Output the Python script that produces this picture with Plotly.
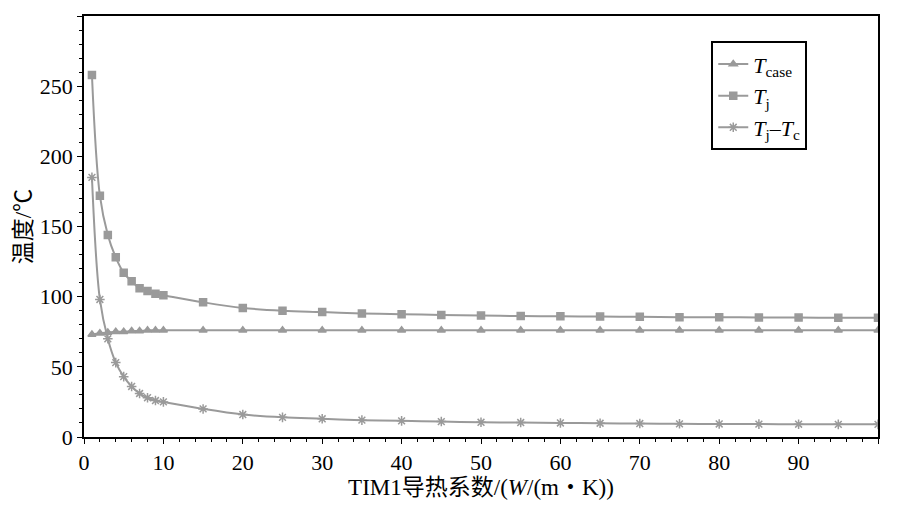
import plotly.graph_objects as go

# TIM1 conductivity (x) and temperatures
k_vals = [1, 2, 3, 4, 5, 6, 7, 8, 9, 10, 15, 20, 25, 30, 35, 40, 45, 50, 55, 60,
          65, 70, 75, 80, 85, 90, 95, 100]
t_case = [73, 74, 74.5, 75, 75, 75.5, 75.5, 76, 76, 76, 76, 76, 76, 76, 76, 76, 76, 76, 76, 76,
          76, 76, 76, 76, 76, 76, 76, 76]
t_j = [258, 172, 144, 128, 117, 111, 106, 104, 102, 101, 96, 92, 90, 89, 88, 87.5, 87, 86.5, 86.2, 86,
       85.8, 85.6, 85.4, 85.3, 85.2, 85.1, 85, 85]
t_diff = [185, 98, 70, 53, 43, 36, 31, 28, 26, 25, 20, 16, 14, 13, 12, 11.5, 11, 10.5, 10.3, 10,
          9.8, 9.6, 9.4, 9.3, 9.2, 9.1, 9, 9]

series = [
    ("<i>T</i><sub>case</sub>", t_case, "triangle-up", 7),
    ("<i>T</i><sub>j</sub>", t_j, "square", 7),
    ("<i>T</i><sub>j</sub>–<i>T</i><sub>c</sub>", t_diff, "asterisk-open", 8),
]

fig = go.Figure()
for name, ys, sym, sz in series:
    fig.add_trace(go.Scatter(
        x=k_vals, y=ys, name=name, mode="lines+markers",
        line=dict(color="#9a9a9a", width=2, shape="spline"),
        marker=dict(symbol=sym, size=sz, color="#9a9a9a", line=dict(color="#9a9a9a", width=1.5)),
    ))

axis_common = dict(showline=True, linecolor="black", linewidth=1.5, mirror=True, showgrid=False,
                   zeroline=False, ticks="outside", ticklen=5, tickcolor="black",
                   minor=dict(ticks="outside", ticklen=3, tickcolor="black"),
                   tickfont=dict(size=22, color="black"))
fig.update_xaxes(range=[0, 100], dtick=10, minor_dtick=2,
                 title=dict(text="TIM1导热系数/(<i>W</i>/(m・K))", font=dict(size=23), standoff=2),
                 **axis_common)
fig.update_yaxes(range=[0, 300], dtick=50, minor_dtick=10,
                 title=dict(text="温度/℃", font=dict(size=23), standoff=2),
                 **axis_common)

fig.update_layout(
    width=883, height=493,
    font=dict(family="Liberation Serif, Noto Sans CJK SC, serif", color="black"),
    plot_bgcolor="white", paper_bgcolor="white",
    margin=dict(l=76, r=13, t=6, b=64),
    showlegend=True,
    legend=dict(x=0.79, y=0.94, xanchor="left", yanchor="top", bgcolor="white",
                bordercolor="black", borderwidth=2, font=dict(size=22), tracegroupgap=0),
)

fig.write_html("out.html")
